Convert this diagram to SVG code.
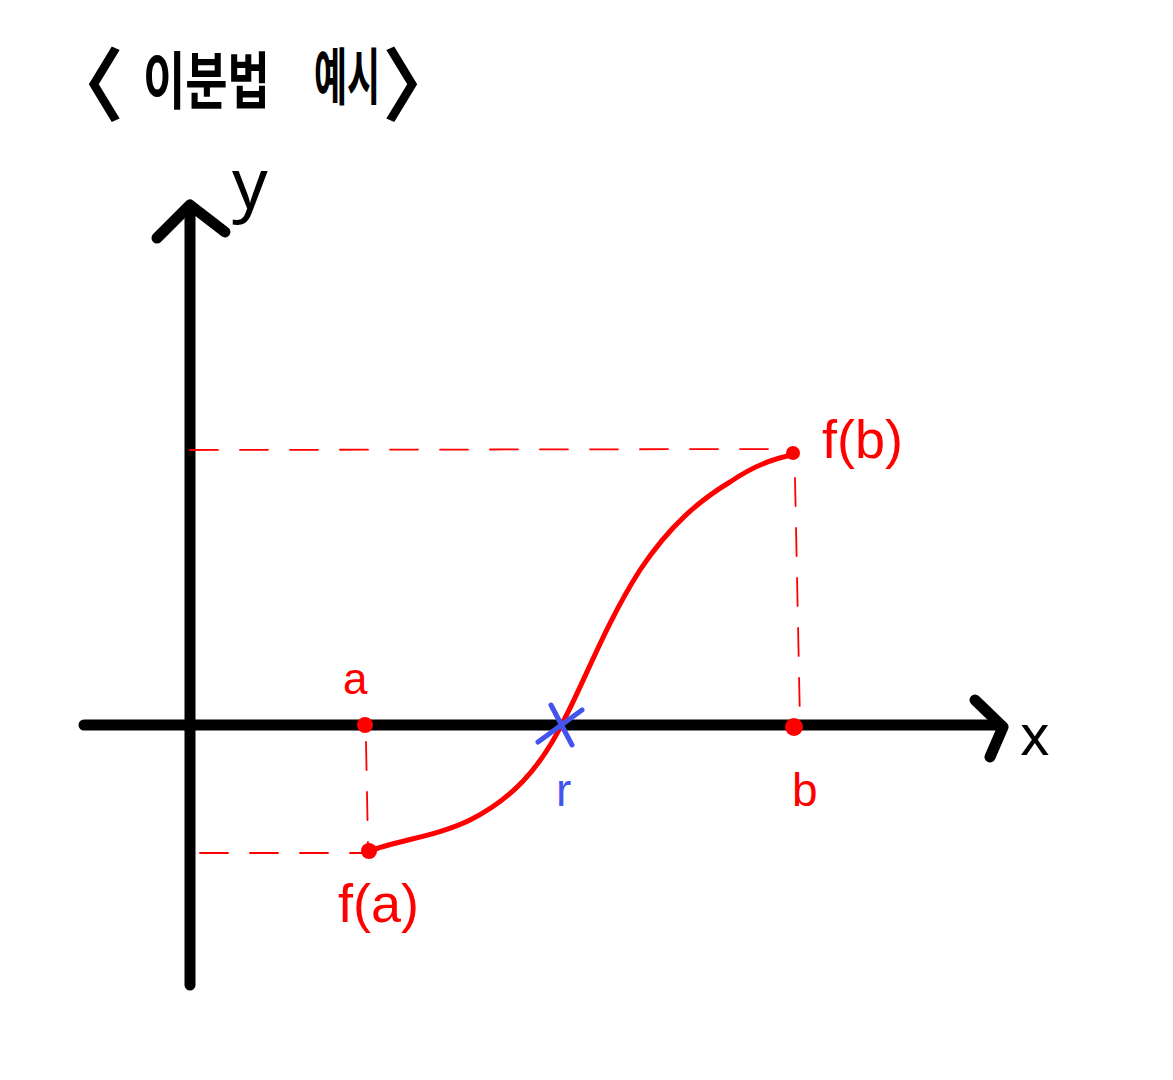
<svg xmlns="http://www.w3.org/2000/svg" width="1173" height="1080" viewBox="0 0 1173 1080">
<style>
.ax{stroke:#000;stroke-width:11;fill:none;stroke-linecap:round;stroke-linejoin:round}
.dash{stroke:#f00;stroke-width:1.8;fill:none;stroke-dasharray:28 22;stroke-linecap:round}
.red{fill:#f00;font-family:"Liberation Sans","Noto Sans",sans-serif}
.blk{fill:#000;font-family:"Noto Sans","Noto Sans CJK KR",sans-serif}
.ttl{fill:#000;font-family:"Noto Sans CJK KR",sans-serif;font-weight:bold}
</style>
<rect width="1173" height="1080" fill="#fff"/>
<g id="title">
<text class="ttl" x="44" y="114" font-size="80">〈</text>
<text class="ttl" transform="translate(143,104) scale(1,1.35)" font-size="46">이분법</text>
<text class="ttl" transform="translate(314,100) scale(0.9,1.55)" font-size="40">예시</text>
<text class="ttl" x="382" y="114" font-size="80">〉</text>
</g>
<g id="axes">
<path class="ax" d="M190,985 L190,208"/>
<path class="ax" d="M157,238 L190,205 L225,232"/>
<path class="ax" d="M84,725 L1000,725"/>
<path class="ax" d="M975,700 L1003,727 L990,757"/>
<text class="blk" x="232" y="208" font-size="70">y</text>
<text class="blk" x="1020" y="755" font-size="56">x</text>
</g>
<g id="connectors">
<path class="dash" d="M190,450 L793,449"/>
<path class="dash" d="M795,478 L800,722"/>
<path class="dash" d="M366,742 L368,845"/>
<path class="dash" d="M200,853 L366,853" stroke-dasharray="30 14"/>
<path d="M369,851 C400,840 440,835 470,820 C510,800 540,770 565,718 C585,680 605,625 640,570 C670,525 700,500 730,482 C755,465 775,458 793,455" stroke="#f00" stroke-width="5" fill="none" stroke-linecap="round"/>
</g>
<g id="points">
<circle cx="365" cy="725" r="8" fill="#f00"/>
<circle cx="794" cy="727" r="9" fill="#f00"/>
<circle cx="369" cy="851" r="8" fill="#f00"/>
<circle cx="793" cy="453" r="7" fill="#f00"/>
</g>
<g id="root">
<path d="M551,705 L572,745 M582,710 L538,742" stroke="#4455ee" stroke-width="5" fill="none" stroke-linecap="round"/>
<text x="556" y="806" font-size="46" fill="#4455ee" font-family="Liberation Sans,sans-serif">r</text>
</g>
<g id="labels">
<text class="red" x="343" y="694" font-size="44">a</text>
<text class="red" x="792" y="806" font-size="46">b</text>
<text class="red" x="822" y="458" font-size="54">f(b)</text>
<text class="red" x="338" y="922" font-size="54">f(a)</text>
</g>
</svg>
